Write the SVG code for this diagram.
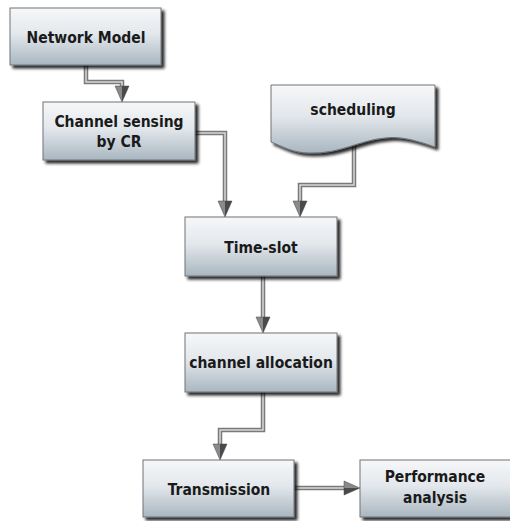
<svg xmlns="http://www.w3.org/2000/svg" width="510" height="521" viewBox="0 0 510 521">
<defs>
<linearGradient id="g" x1="0" y1="0" x2="0" y2="1">
<stop offset="0" stop-color="#f6f7f9"/>
<stop offset="0.45" stop-color="#e3e8ec"/>
<stop offset="1" stop-color="#a9b6c0"/>
</linearGradient>
<linearGradient id="ah" x1="0" y1="0" x2="1" y2="0">
<stop offset="0" stop-color="#8a8a8a"/>
<stop offset="0.5" stop-color="#8a8a8a"/>
<stop offset="0.5" stop-color="#4a4a4a"/>
<stop offset="1" stop-color="#4a4a4a"/>
</linearGradient>
<linearGradient id="ahh" x1="0" y1="0" x2="0" y2="1">
<stop offset="0" stop-color="#8a8a8a"/>
<stop offset="0.5" stop-color="#8a8a8a"/>
<stop offset="0.5" stop-color="#4a4a4a"/>
<stop offset="1" stop-color="#4a4a4a"/>
</linearGradient>
<filter id="sh" x="-10%" y="-10%" width="130%" height="140%">
<feGaussianBlur in="SourceAlpha" stdDeviation="1.5"/>
<feOffset dx="3" dy="3" result="b"/>
<feComponentTransfer><feFuncA type="linear" slope="0.85"/></feComponentTransfer>
<feMerge><feMergeNode/><feMergeNode in="SourceGraphic"/></feMerge>
</filter>
</defs>
<style>
.box{fill:url(#g);stroke:#6f7478;stroke-width:1;filter:url(#sh)}
.t{font-family:"DejaVu Sans Condensed","DejaVu Sans",Verdana,sans-serif;font-stretch:condensed;font-weight:bold;font-size:15.5px;fill:#1a1a1a;text-anchor:middle}
.c1{fill:none;stroke:#7a7a7a;stroke-width:4.5}
.c2{fill:none;stroke:#d8d8d8;stroke-width:1.5}
.ah{fill:url(#ah);stroke:#444;stroke-width:0.5}
.ahh{fill:url(#ahh);stroke:#444;stroke-width:0.5}
</style>
<g id="connectors">
<path class="c1" d="M86,65 V82 H122 V90"/><path class="c2" d="M86,65 V82 H122 V90"/>
<polygon class="ah" points="115,86 129,86 122,102"/>
<path class="c1" d="M195,133 H225 V205"/><path class="c2" d="M195,133 H225 V205"/>
<polygon class="ah" points="218,201 232,201 225,217"/>
<path class="c1" d="M354,145 V185 H300 V205"/><path class="c2" d="M354,145 V185 H300 V205"/>
<polygon class="ah" points="293,201 307,201 300,217"/>
<path class="c1" d="M263,276 V320"/><path class="c2" d="M263,276 V320"/>
<polygon class="ah" points="256,317 270,317 263,333"/>
<path class="c1" d="M263,392 V430 H220 V448"/><path class="c2" d="M263,392 V430 H220 V448"/>
<polygon class="ah" points="213,444 227,444 220,460"/>
<path class="c1" d="M294,488 H348"/><path class="c2" d="M294,488 H348"/>
<polygon class="ahh" points="344,481 344,495 360,488"/>
</g>
<g id="network-model">
<rect class="box" x="10" y="8" width="151" height="57"/>
<text class="t" x="86" y="43">Network Model</text>
</g>
<g id="channel-sensing">
<rect class="box" x="43" y="102" width="152" height="58"/>
<text class="t" x="119" y="127">Channel sensing</text>
<text class="t" x="119" y="147">by CR</text>
</g>
<g id="scheduling">
<path class="box" d="M271,85 H435 V147 C415,140 400,136 385,138 C360,140 340,154 310,153 C292,153 282,146 271,142 Z"/>
<text class="t" x="353" y="115">scheduling</text>
</g>
<g id="time-slot">
<rect class="box" x="185" y="217" width="152" height="59"/>
<text class="t" x="261" y="253">Time-slot</text>
</g>
<g id="channel-allocation">
<rect class="box" x="185" y="333" width="152" height="59"/>
<text class="t" x="261" y="368">channel allocation</text>
</g>
<g id="transmission">
<rect class="box" x="143" y="460" width="151" height="57"/>
<text class="t" x="219" y="495">Transmission</text>
</g>
<g id="performance-analysis">
<rect class="box" x="360" y="460" width="152" height="57"/>
<text class="t" x="435" y="482">Performance</text>
<text class="t" x="435" y="503">analysis</text>
</g>
</svg>
